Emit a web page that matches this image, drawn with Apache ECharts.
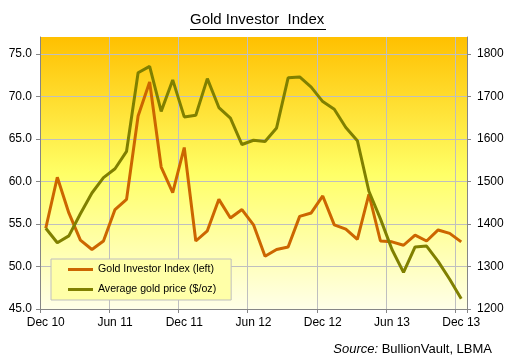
<!DOCTYPE html>
<html>
<head>
<meta charset="utf-8">
<script src="https://cdn.jsdelivr.net/npm/echarts@6/dist/echarts.min.js"></script>
<style>html,body{margin:0;padding:0;background:#fff;}#c{width:511px;height:359px;}</style>
</head>
<body>
<div id="c"></div>
<script>
var months = ['Dec 10','Jan 11','Feb 11','Mar 11','Apr 11','May 11','Jun 11','Jul 11','Aug 11','Sep 11','Oct 11','Nov 11',
  'Dec 11','Jan 12','Feb 12','Mar 12','Apr 12','May 12','Jun 12','Jul 12','Aug 12','Sep 12','Oct 12','Nov 12',
  'Dec 12','Jan 13','Feb 13','Mar 13','Apr 13','May 13','Jun 13','Jul 13','Aug 13','Sep 13','Oct 13','Nov 13','Dec 13'];
var investorIndex = [54.5,60.5,56.3,53.1,52.0,53.0,56.7,57.9,67.7,71.7,61.7,58.7,
  64.0,53.0,54.2,57.9,55.7,56.7,54.9,51.2,52.0,52.3,55.9,56.3,
  58.3,54.9,54.4,53.2,58.5,53.0,52.9,52.5,53.7,53.0,54.3,53.9,52.9];
var goldPrice = [1390,1356,1372,1424,1473,1509,1530,1571,1756,1771,1665,1739,
  1652,1656,1742,1674,1649,1587,1597,1594,1626,1744,1746,1722,
  1688,1670,1627,1596,1477,1412,1340,1286,1346,1348,1312,1270,1224];
var seriesNames = ['Gold Investor Index (left)','Average gold price ($/oz)'];
var titleText = 'Gold Investor  Index';

var chart = echarts.init(document.getElementById('c'), null, {renderer:'canvas'});
var font = 'Liberation Sans, Arial, sans-serif';
chart.setOption({
  animation:false,
  textStyle:{fontFamily:font},
  title:{text:titleText,left:190,top:12,padding:0,
    textStyle:{fontSize:15,fontWeight:'normal',color:'#000',fontFamily:font}},
  graphic:[
    {type:'line',shape:{x1:190,y1:29.5,x2:326,y2:29.5},style:{stroke:'#000',lineWidth:1}},
    {type:'text',right:19,top:343,style:{text:'{i|Source:} BullionVault, LBMA',
      rich:{i:{fontStyle:'italic',fontSize:13,fontFamily:font,fill:'#000'}},
      fontSize:13,fontFamily:font,fill:'#000'}}
  ],
  grid:{left:40,right:44,top:37,bottom:50,show:true,borderWidth:0,
    backgroundColor:new echarts.graphic.LinearGradient(0,0,0,1,[
      {offset:0,color:'#ffc000'},{offset:0.5,color:'#ffff66'},{offset:1,color:'#ffffe8'}])},
  legend:{orient:'vertical',left:51,top:259,padding:[5,15,5,17],itemGap:9,itemWidth:25,itemHeight:3,
    icon:'rect',backgroundColor:'#ffffa8',borderColor:'#bfbfbf',borderWidth:1,
    data:seriesNames,
    textStyle:{fontSize:10.6,fontFamily:font,color:'#000'}},
  xAxis:{type:'category',data:months,boundaryGap:true,
    axisLine:{lineStyle:{color:'#868686',width:1}},
    axisTick:{show:true,interval:5,length:4,lineStyle:{color:'#868686'}},
    axisLabel:{interval:5,margin:8,fontSize:12,color:'#000',fontFamily:font},
    splitLine:{show:true,interval:5,lineStyle:{color:'#bfbfbf',width:1}}},
  yAxis:[
    {type:'value',min:45,max:77,interval:5,position:'left',
     axisLine:{show:true,lineStyle:{color:'#868686'}},
     axisTick:{show:true,length:4,lineStyle:{color:'#868686'}},
     axisLabel:{showMaxLabel:false,margin:8,fontSize:12,color:'#000',fontFamily:font,
       formatter:function(v){return v%5===0?v.toFixed(1):'';}},
     splitLine:{show:true,showMaxLine:false,lineStyle:{color:'#bfbfbf',width:1}}},
    {type:'value',min:1200,max:1840,interval:100,position:'right',
     axisLine:{show:true,lineStyle:{color:'#868686'}},
     axisTick:{show:true,length:4,lineStyle:{color:'#868686'}},
     axisLabel:{showMaxLabel:false,margin:10,fontSize:12,color:'#000',fontFamily:font,
       formatter:function(v){return v%100===0?String(v):'';}},
     splitLine:{show:false}}
  ],
  series:[
    {name:seriesNames[0],type:'line',yAxisIndex:0,data:investorIndex,symbol:'none',
     lineStyle:{color:'#cc6600',width:3},itemStyle:{color:'#cc6600'}},
    {name:seriesNames[1],type:'line',yAxisIndex:1,data:goldPrice,symbol:'none',
     lineStyle:{color:'#808000',width:3},itemStyle:{color:'#808000'}}
  ]
});
</script>
</body>
</html>
